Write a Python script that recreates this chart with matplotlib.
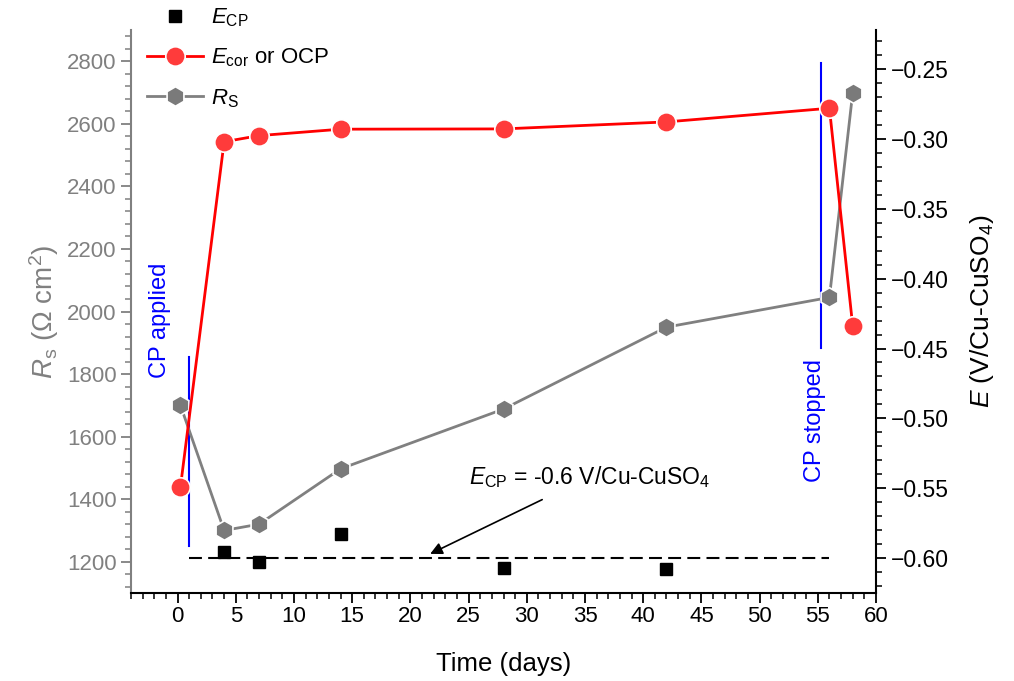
import matplotlib
matplotlib.use('Agg')
import matplotlib.pyplot as plt
from matplotlib.ticker import MultipleLocator

plt.rcParams['font.family'] = ['Liberation Sans', 'DejaVu Sans']
plt.rcParams['mathtext.fontset'] = 'custom'
plt.rcParams['mathtext.rm'] = 'Liberation Sans'
plt.rcParams['mathtext.it'] = 'Liberation Sans:italic'
plt.rcParams['mathtext.bf'] = 'Liberation Sans:bold'
plt.rcParams['axes.unicode_minus'] = True

# ---- data ----
days_rs = [0.25, 4, 7, 14, 28, 42, 56, 58]
rs_values = [1700, 1300, 1320, 1497, 1688, 1950, 2045, 2700]

days_ecor = [0.25, 4, 7, 14, 28, 42, 56, 58]
ecor_values = [-0.549, -0.302, -0.2976, -0.293, -0.2928, -0.2878, -0.278, -0.434]

days_ecp = [4, 7, 14, 28, 42]
ecp_values = [-0.5954, -0.6026, -0.5828, -0.6069, -0.6078]

ecp_setpoint = -0.6
setpoint_days = [1, 56]

cp_applied_day = 1
cp_applied_rs = [1250, 1855]
cp_stopped_day = 55.3
cp_stopped_rs = [1882, 2795]

x_ticks = [0, 5, 10, 15, 20, 25, 30, 35, 40, 45, 50, 55, 60]
left_ticks = [1200, 1400, 1600, 1800, 2000, 2200, 2400, 2600, 2800]
right_ticks = [-0.60, -0.55, -0.50, -0.45, -0.40, -0.35, -0.30, -0.25]

GRAY = '#808080'
RED_LINE = '#ff0000'
RED_MK = '#ff3b3b'
BLUE = '#0000ff'

fig = plt.figure(figsize=(10.14, 6.81), dpi=100)
ax = fig.add_axes([131/1014, 88/681, (876-131)/1014, (593-30)/681])
ax2 = ax.twinx()

# Rs on left axis
l_rs, = ax.plot(days_rs, rs_values, color=GRAY, lw=2, marker='h', ms=14,
                markerfacecolor='#7a7a7a', markeredgecolor='white', mew=1.2,
                label=r'$R_{\mathrm{S}}$', zorder=3)
# CP lines (left-axis units)
ax.plot([cp_applied_day, cp_applied_day], cp_applied_rs, color=BLUE, lw=1.5, zorder=2)
ax.plot([cp_stopped_day, cp_stopped_day], cp_stopped_rs, color=BLUE, lw=1.5, zorder=2)
ax.text(-1.5, 1787, 'CP applied', rotation=90, color=BLUE, fontsize=17,
        ha='center', va='bottom')
ax.text(54.8, 1456, 'CP stopped', rotation=90, color=BLUE, fontsize=17,
        ha='center', va='bottom')

# E on right axis
l_ecp, = ax2.plot(days_ecp, ecp_values, ls='none', marker='s', ms=8,
                  color='black', label=r'$E_{\mathrm{CP}}$', zorder=3)
l_ecor, = ax2.plot(days_ecor, ecor_values, color=RED_LINE, lw=2, marker='o', ms=14,
                   markerfacecolor=RED_MK, markeredgecolor='white', mew=1.2,
                   label=r'$E_{\mathrm{cor}}$ or OCP', zorder=4)
ax2.plot(setpoint_days, [ecp_setpoint, ecp_setpoint], color='black', lw=1.5,
         ls=(0, (6.2, 3)), zorder=2)
ax2.annotate(r'$E_{\mathrm{CP}}$ = -0.6 V/Cu-CuSO$_4$', xy=(21.7, -0.597),
             xytext=(35.4, -0.5417), fontsize=16.5, ha='center', va='center',
             arrowprops=dict(arrowstyle='-|>', color='black', lw=1.2,
                             mutation_scale=18, shrinkA=12, shrinkB=0))

# axes limits and ticks
ax.set_xlim(-4, 60)
ax.set_ylim(1100, 2900)
ax2.set_ylim(-0.625, -0.222)

ax.set_xticks(x_ticks)
ax.xaxis.set_minor_locator(MultipleLocator(1))
ax.set_yticks(left_ticks)
ax.yaxis.set_minor_locator(MultipleLocator(40))
ax2.set_yticks(right_ticks)
ax2.yaxis.set_minor_locator(MultipleLocator(0.01))
ax2.set_yticklabels(['\u2212%.2f' % abs(v) for v in right_ticks])

for a in (ax, ax2):
    a.spines['top'].set_visible(False)
ax.spines['right'].set_visible(False)
ax2.spines['left'].set_visible(False)
ax2.spines['bottom'].set_visible(False)
ax.spines['left'].set_color(GRAY)
ax.spines['left'].set_linewidth(1.5)
ax.spines['bottom'].set_linewidth(1.5)
ax2.spines['right'].set_linewidth(1.5)

ax.tick_params(axis='x', which='major', direction='out', length=7, width=1.3,
               labelsize=16, pad=2)
ax.tick_params(axis='x', which='minor', direction='out', length=4, width=1.1)
ax.tick_params(axis='y', which='both', colors=GRAY, labelcolor=GRAY)
ax.tick_params(axis='y', which='major', direction='out', length=7, width=1.3,
               labelsize=16)
ax.tick_params(axis='y', which='minor', direction='out', length=4, width=1.1)
ax2.tick_params(axis='y', which='major', direction='out', length=7, width=1.3,
                labelsize=16.5)
ax2.tick_params(axis='y', which='minor', direction='out', length=4, width=1.1)

ax.set_xlabel('Time (days)', fontsize=18.5, labelpad=18)
ax.set_ylabel(r'$R_{\mathrm{s}}$ (Ω cm$^2$)', fontsize=20, color=GRAY, labelpad=4)
ax2.set_ylabel(r'$E$ (V/Cu-CuSO$_4$)', fontsize=19, labelpad=14)

fig.legend(handles=[l_ecp, l_ecor, l_rs], loc='upper left',
           bbox_to_anchor=(143/1014, 1 - 2/681), frameon=False, fontsize=16,
           handlelength=2.5, handletextpad=0.35, labelspacing=0.8,
           borderaxespad=0, borderpad=0.2)

fig.savefig('out.png', dpi=100)
